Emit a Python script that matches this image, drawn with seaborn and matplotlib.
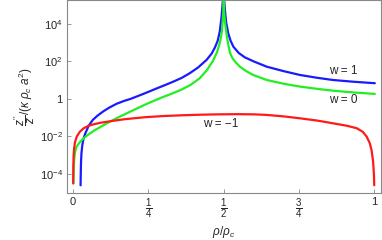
import pandas as pd
import matplotlib
matplotlib.use("Agg")
import matplotlib.pyplot as plt
import seaborn as sns
import numpy as np

# readings: x = rho/rho_c, values given as log10 of z''/z/(kappa rho_c a^2)
x_w1 = [0.0246, 0.0252, 0.026, 0.0275, 0.030, 0.0345, 0.04, 0.051, 0.065, 0.08, 0.10,
        0.12, 0.145, 0.17, 0.19, 0.222, 0.25, 0.277, 0.305, 0.332, 0.36, 0.387, 0.415,
        0.443, 0.46, 0.471, 0.48, 0.487, 0.493, 0.497, 0.5,
        0.5015, 0.504, 0.508, 0.515, 0.523, 0.532, 0.55, 0.57, 0.60, 0.643, 0.70,
        0.753, 0.81, 0.864, 0.93, 1.002]
log_w1 = [-4.6, -4.0, -3.4, -2.9, -2.5, -2.1, -1.85, -1.44, -1.12, -0.90, -0.66,
          -0.46, -0.25, -0.10, 0.0, 0.2, 0.38, 0.56, 0.74, 0.92, 1.12, 1.37, 1.68,
          2.08, 2.42, 2.75, 3.1, 3.6, 4.4, 5.2, 6.0,
          5.3, 4.75, 4.1, 3.5, 3.1, 2.79, 2.45, 2.22, 2.0, 1.72, 1.48,
          1.28, 1.13, 1.01, 0.92, 0.84]

x_w0 = [0.001, 0.002, 0.0035, 0.006, 0.011, 0.02, 0.034, 0.05, 0.07, 0.095, 0.122,
        0.15, 0.18, 0.21, 0.25, 0.29, 0.33, 0.36, 0.39, 0.42, 0.445, 0.465, 0.478,
        0.488, 0.494, 0.4985, 0.5,
        0.5015, 0.505, 0.51, 0.515, 0.521, 0.53, 0.54, 0.554, 0.575, 0.598, 0.643,
        0.70, 0.753, 0.81, 0.864, 0.93, 1.002]
log_w0 = [-4.5, -3.7, -3.2, -2.85, -2.55, -2.35, -2.1, -1.9, -1.68, -1.45, -1.21,
          -0.98, -0.75, -0.52, -0.22, 0.05, 0.30, 0.5, 0.75, 1.1, 1.55, 2.05, 2.5,
          3.05, 3.6, 4.6, 6.0,
          4.6, 4.0, 3.4, 2.9, 2.45, 2.15, 1.95, 1.72, 1.48, 1.28, 1.01,
          0.81, 0.66, 0.54, 0.44, 0.35, 0.27]

x_wm1 = [0.0, 0.0005, 0.0015, 0.003, 0.006, 0.012, 0.022, 0.035, 0.05, 0.068, 0.09,
         0.122, 0.17, 0.24, 0.30, 0.36, 0.42, 0.48, 0.55, 0.60, 0.643, 0.70, 0.753,
         0.81, 0.864, 0.91, 0.942, 0.962, 0.975, 0.985, 0.991, 0.996, 0.999, 1.0]
log_wm1 = [-4.5, -3.6, -3.0, -2.65, -2.3, -2.0, -1.75, -1.56, -1.44, -1.35, -1.27,
           -1.19, -1.08, -0.97, -0.91, -0.87, -0.84, -0.82, -0.81, -0.82, -0.85, -0.93, -1.03,
           -1.15, -1.30, -1.43, -1.56, -1.75, -2.01, -2.35, -2.72, -3.3, -4.0, -4.6]

labels = ["w = 1", "w = 0", "w = \u22121"]
colors = ["#1a1aff", "#22ee22", "#ff1a1a"]

df = pd.concat([
    pd.DataFrame({"x": x_w1, "y": 10.0 ** np.array(log_w1), "w": labels[0]}),
    pd.DataFrame({"x": x_w0, "y": 10.0 ** np.array(log_w0), "w": labels[1]}),
    pd.DataFrame({"x": x_wm1, "y": 10.0 ** np.array(log_wm1), "w": labels[2]}),
])

sns.set_theme(style="white")
plt.rcParams["font.family"] = ["Liberation Sans", "DejaVu Sans"]
plt.rcParams["mathtext.fontset"] = "custom"
plt.rcParams["mathtext.it"] = "Liberation Sans:italic"
plt.rcParams["mathtext.rm"] = "Liberation Sans"

fig = plt.figure(figsize=(3.82, 2.40), dpi=100)
ax = fig.add_axes([0.175, 0.196, 0.822, 0.802])

sns.lineplot(data=df, x="x", y="y", hue="w", palette=dict(zip(labels, colors)),
             sort=False, estimator=None, linewidth=1.6, legend=False, ax=ax)

ax.set_yscale("log")
ax.set_ylim(10 ** -5.01, 10 ** 5.25)
ax.set_xlim(-0.021, 1.022)

ax.set_yticks([1e-4, 1e-2, 1, 1e2, 1e4])
ax.set_yticklabels([r"$10^{-4}$", r"$10^{-2}$", "1", r"$10^{2}$", r"$10^{4}$"])
ax.minorticks_off()
ax.set_xticks([0, 0.25, 0.5, 0.75, 1])
ax.set_xticklabels(["0", r"$\frac{1}{4}$", r"$\frac{1}{2}$", r"$\frac{3}{4}$", "1"])
ax.tick_params(direction="in", length=3, width=0.6, color="#888888",
               labelsize=8, pad=3, left=True, bottom=True)
for lab in ax.get_xticklabels()[1:4]:
    lab.set_fontsize(10)
for s in ax.spines.values():
    s.set_color("#888888")
    s.set_linewidth(0.8)

ax.set_xlabel(r"$\rho/\rho_c$", fontsize=8.5, labelpad=2)
ax.set_ylabel(r"$\dfrac{z^{\prime\prime}}{z}/(\kappa\;\rho_c\;a^2)$", fontsize=8.5, labelpad=2)

ax.text(0.896, 31, "w = 1", fontsize=8.5, ha="center", va="center")
ax.text(0.898, 0.88, "w = 0", fontsize=8.5, ha="center", va="center")
ax.text(0.49, 0.047, "w = \u22121", fontsize=8.5, ha="center", va="center")

fig.savefig("out.png", dpi=100)
